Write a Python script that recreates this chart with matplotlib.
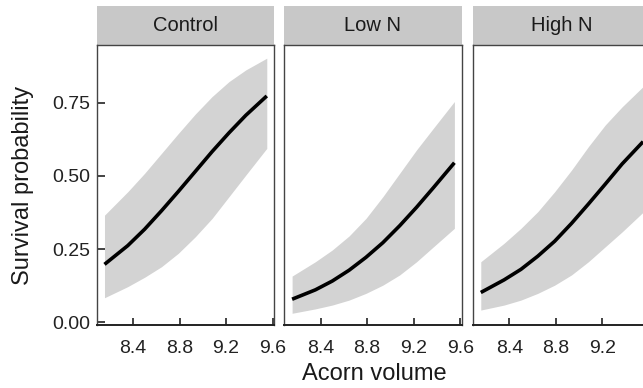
import matplotlib
matplotlib.use('Agg')
import matplotlib.pyplot as plt
from matplotlib.patches import Rectangle

plt.rcParams['font.family'] = ['Liberation Sans', 'DejaVu Sans']

panels = ['Control', 'Low N', 'High N']
volume = [8.155, 8.355, 8.5, 8.645, 8.79, 8.935, 9.08, 9.225, 9.37, 9.55]

# fitted survival + 95% band
control_fit = [0.198, 0.262, 0.318, 0.381, 0.447, 0.515, 0.583, 0.647, 0.707, 0.773]
control_lo = [0.084, 0.122, 0.154, 0.190, 0.236, 0.292, 0.355, 0.429, 0.503, 0.594]
control_hi = [0.366, 0.446, 0.509, 0.577, 0.645, 0.711, 0.771, 0.822, 0.862, 0.902]

lown_fit = [0.079, 0.111, 0.141, 0.178, 0.222, 0.272, 0.330, 0.393, 0.460, 0.545]
lown_lo = [0.031, 0.046, 0.059, 0.076, 0.099, 0.127, 0.162, 0.207, 0.258, 0.321]
lown_hi = [0.158, 0.207, 0.247, 0.295, 0.355, 0.429, 0.509, 0.589, 0.663, 0.754]

highn_fit = [0.102, 0.145, 0.181, 0.226, 0.277, 0.338, 0.404, 0.472, 0.541, 0.617]
highn_lo = [0.042, 0.059, 0.076, 0.099, 0.127, 0.162, 0.207, 0.258, 0.309, 0.376]
highn_hi = [0.207, 0.270, 0.321, 0.378, 0.446, 0.520, 0.600, 0.674, 0.736, 0.805]

x_ticks = [8.4, 8.8, 9.2, 9.6]
y_ticks = [0.0, 0.25, 0.5, 0.75]
y_labels = ['0.00', '0.25', '0.50', '0.75']

series = [(control_fit, control_lo, control_hi),
          (lown_fit, lown_lo, lown_hi),
          (highn_fit, highn_lo, highn_hi)]

fig = plt.figure(figsize=(6.43, 3.88), dpi=100)
W, H = 643, 388
lefts = [96.7, 284.3, 473.0]

for i, (name, (fit, lo, hi)) in enumerate(zip(panels, series)):
    ax = fig.add_axes([lefts[i] / W, 63 / H, 177.3 / W, 280 / H])
    ax.fill_between(volume, lo, hi, color='#d3d3d3', lw=0)
    ax.plot(volume, fit, color='black', lw=2.6, solid_capstyle='butt')
    ax.set_xlim(8.088, 9.612)
    ax.set_ylim(-0.009, 0.947)
    ax.set_xticks(x_ticks)
    # last facet runs off the right edge, its 9.6 label is cut away
    labels = [f'{t:.1f}' for t in x_ticks]
    if i == 2:
        labels[-1] = ''
    ax.set_xticklabels(labels)
    ax.tick_params(axis='x', direction='in', length=5, width=1.2, color='#222222',
                   labelsize=14, labelcolor='#222222', pad=10.5)
    if i == 0:
        ax.set_yticks(y_ticks)
        ax.set_yticklabels(y_labels)
        ax.tick_params(axis='y', direction='in', length=5.5, width=1.2, color='#222222',
                       labelsize=14, labelcolor='#222222', pad=5)
    else:
        ax.set_yticks([])
    for sp in ax.spines.values():
        sp.set_color('#444444')
        sp.set_linewidth(1.0)
    ax.spines['bottom'].set_color('#222222')
    ax.spines['bottom'].set_linewidth(1.4)
    # facet strip
    strip = Rectangle((0, 1.0), 1, 39 / 280, transform=ax.transAxes,
                      facecolor='#c8c8c8', edgecolor='none', clip_on=False)
    ax.add_patch(strip)
    ax.text(0.5, 1.0 + 19.5 / 280, name, transform=ax.transAxes,
            ha='center', va='center', fontsize=14.5, color='#1a1a1a')

fig.text(23 / W, 1 - 185 / H, 'Survival probability', rotation=90,
         ha='center', va='center', fontsize=17, color='#1a1a1a')
fig.text(374 / W, 1 - 374 / H, 'Acorn volume', ha='center', va='center',
         fontsize=17, color='#1a1a1a')

fig.savefig('out.png', dpi=100)
